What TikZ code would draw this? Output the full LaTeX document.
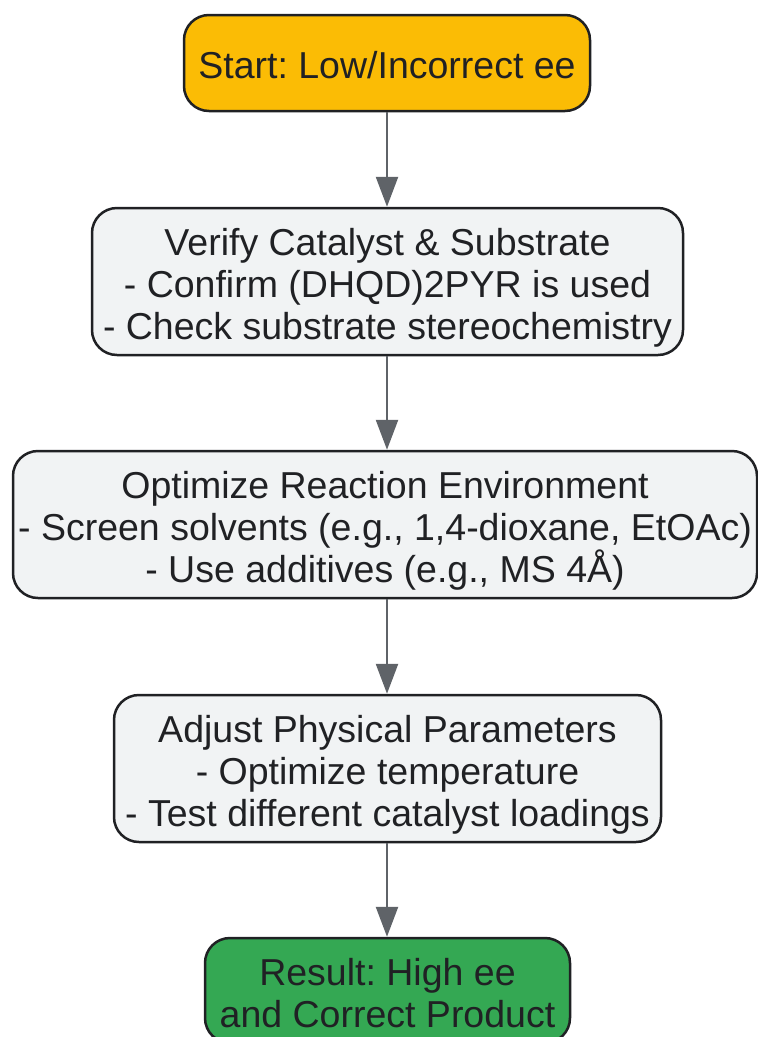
\documentclass[tikz,border=0pt]{standalone}
\usepackage{fontspec}
\setmainfont{Liberation Sans}
\usetikzlibrary{arrows.meta}
\frenchspacing
\definecolor{startfill}{HTML}{FBBC05}
\definecolor{boxfill}{HTML}{F1F3F4}
\definecolor{endfill}{HTML}{34A853}
\definecolor{edgecol}{HTML}{202124}
\definecolor{arrowcol}{HTML}{5F6368}
\newcommand{\tp}{\rule{0pt}{40pt}}
\newcommand{\bt}{\rule[-9pt]{0pt}{9pt}}
\begin{document}
\begin{tikzpicture}[x=1pt,y=1pt,
  stepbox/.style={draw=edgecol, line width=2.5pt, rounded corners=25pt, fill=boxfill,
    align=center, text=edgecol, inner sep=0pt,
    font=\fontsize{37.5}{42}\selectfont\frenchspacing},
  flow/.style={draw=arrowcol, line width=2.5pt, -{Triangle[length=30pt,width=22pt]}}
]
\useasboundingbox (0,0) rectangle (758,-1037);
\node[stepbox, fill=startfill, minimum width=406pt, minimum height=96pt] (start) at (387,-63) {\tp Start: Low/Incorrect ee\bt};
\node[stepbox, minimum width=591pt, minimum height=147pt] (verify) at (387.5,-281.5) {\tp Verify Catalyst \& Substrate\\- Confirm (DHQD)2PYR is used\\- Check substrate stereochemistry\bt};
\node[stepbox, minimum width=744pt, minimum height=147pt] (optim) at (385,-524.5) {\tp Optimize Reaction Environment\\- Screen solvents (e.g., 1,4-dioxane, EtOAc)\\- Use additives (e.g., MS 4Å)\bt};
\node[stepbox, minimum width=547pt, minimum height=147pt] (adjust) at (387.5,-768.5) {\tp Adjust Physical Parameters\\- Optimize temperature\\- Test different catalyst loadings\bt};
\node[stepbox, fill=endfill, minimum width=365pt, minimum height=105pt] (result) at (387.5,-990.5) {\tp Result: High ee\\and Correct Product\bt};
\draw[flow] (start.south -| 387,0) -- (verify.north -| 387,0);
\draw[flow] (verify.south -| 387,0) -- (optim.north -| 387,0);
\draw[flow] (optim.south -| 387,0) -- (adjust.north -| 387,0);
\draw[flow] (adjust.south -| 387,0) -- (result.north -| 387,0);
\end{tikzpicture}
\end{document}
